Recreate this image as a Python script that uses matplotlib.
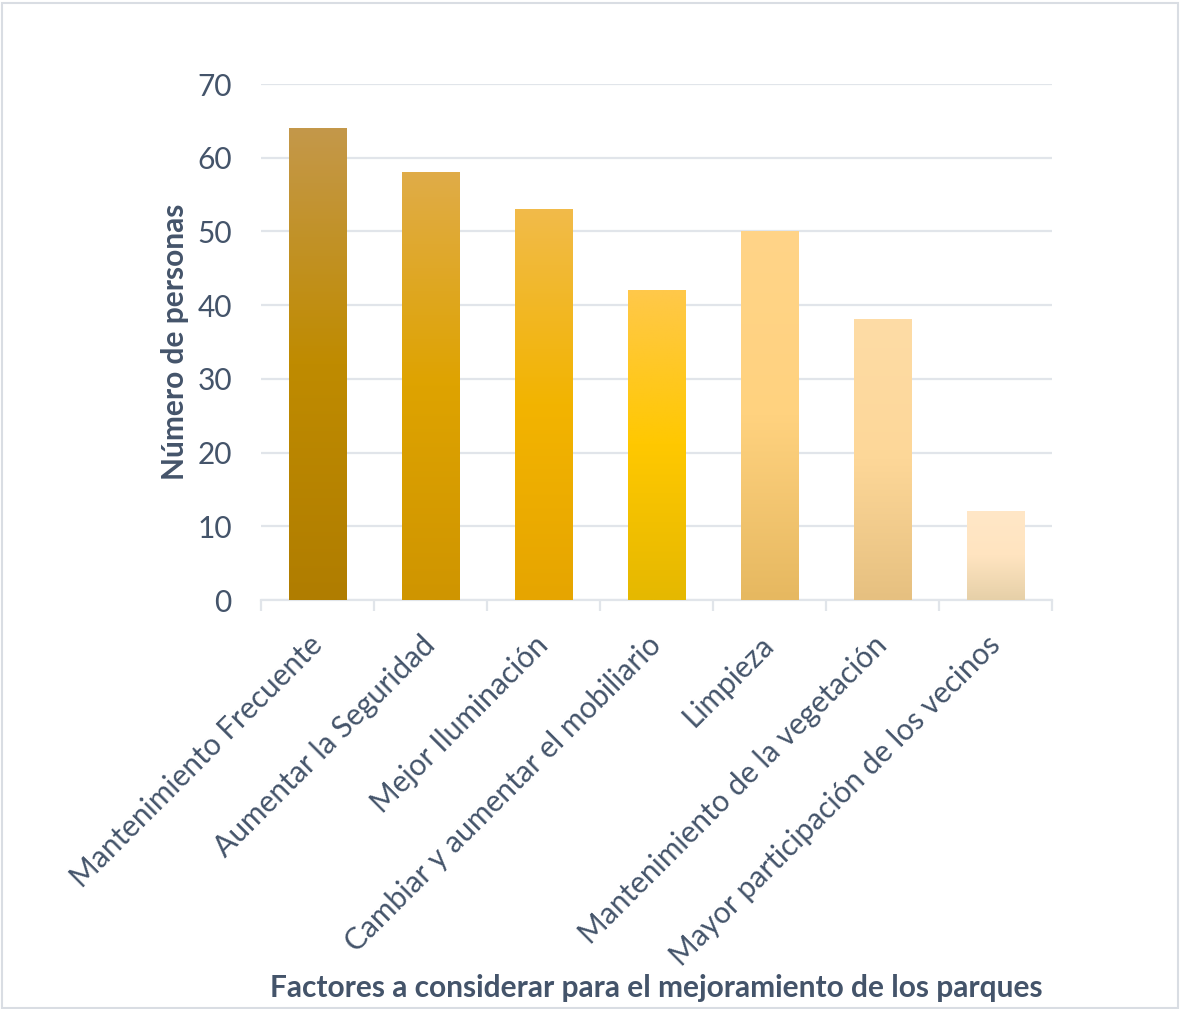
import matplotlib
matplotlib.use("Agg")
import matplotlib.pyplot as plt
import numpy as np
from matplotlib.colors import LinearSegmentedColormap
from matplotlib.patches import Rectangle
from matplotlib.transforms import ScaledTranslation

categories = ["Mantenimiento Frecuente", "Aumentar la Seguridad", "Mejor Iluminación",
              "Cambiar y aumentar el mobiliario", "Limpieza",
              "Mantenimiento de la vegetación", "Mayor participación de los vecinos"]
values = [64, 58, 53, 42, 50, 38, 12]
# gradient colours per bar: (top, middle, bottom)
bar_colors = [
    ("#C4984A", "#BF8B00", "#B07D00"),
    ("#E0AC48", "#DEA300", "#CF9500"),
    ("#F1BB4A", "#F3B400", "#E6A500"),
    ("#FFC84A", "#FFC800", "#E5B800"),
    ("#FFD488", "#FFD27F", "#E6B860"),
    ("#FEDCA6", "#FDD798", "#E6C080"),
    ("#FFE7C7", "#FFE4C0", "#E6D0A8"),
]
yticks = [0, 10, 20, 30, 40, 50, 60, 70]
xlabel = "Factores a considerar para el mejoramiento de los parques"
ylabel = "Número de personas"

txt = "#44546A"
grid = "#E1E5EA"
plt.rcParams['font.family'] = ['Lato', 'DejaVu Sans']

fig = plt.figure(figsize=(11.8, 10.09), dpi=100)
fig.patches.append(Rectangle((0.0015, 0.001), 0.997, 0.996, transform=fig.transFigure,
                             fill=False, edgecolor="#D9DDE3", linewidth=1.5))
ax = fig.add_axes([0.2212, 0.4053, 0.6703, 0.5114])

x = np.arange(len(categories))
bars = ax.bar(x, values, width=0.51, color="none", zorder=3)
for b, cols in zip(bars, bar_colors):
    cmap = LinearSegmentedColormap.from_list("g", [cols[2], cols[1], cols[0]])
    grad = np.linspace(0, 1, 256).reshape(-1, 1)
    x0, w = b.get_x(), b.get_width()
    h = b.get_height()
    ax.imshow(grad, cmap=cmap, origin="lower", aspect="auto",
              extent=(x0, x0 + w, 0, h), zorder=3, interpolation="bilinear")

ax.set_xlim(-0.5, len(categories) - 0.5)
ax.set_ylim(0, 70)
ax.set_yticks(yticks)
ax.yaxis.grid(True, color=grid, linewidth=1.6, zorder=0)
ax.set_axisbelow(True)
for s in ["top", "right", "left"]:
    ax.spines[s].set_visible(False)
ax.spines["bottom"].set_color(grid)
ax.spines["bottom"].set_linewidth(1.6)

ax.tick_params(axis="y", length=0, labelsize=21.5, labelcolor=txt, pad=21)
ax.set_xticks(x)
ax.set_xticklabels(categories, rotation=45, ha="right", va="top",
                   rotation_mode="anchor", fontsize=21.5, color=txt)
ax.tick_params(axis="x", which="major", length=0, pad=22)
shift = ScaledTranslation(-0.10, 0.0, fig.dpi_scale_trans)
for lab in ax.get_xticklabels():
    lab.set_transform(lab.get_transform() + shift)
ax.set_xticks(np.arange(-0.5, len(categories), 1), minor=True)
ax.tick_params(axis="x", which="minor", length=8, width=1.6, color=grid)

fig.text(0.5563, 0.021, xlabel, ha="center", va="center", fontsize=21.5,
         fontweight="bold", color=txt)
fig.text(0.148, 0.661, ylabel, ha="center", va="center", rotation=90,
         fontsize=21.5, fontweight="bold", color=txt)

fig.savefig("out.png", dpi=100, facecolor="white")
